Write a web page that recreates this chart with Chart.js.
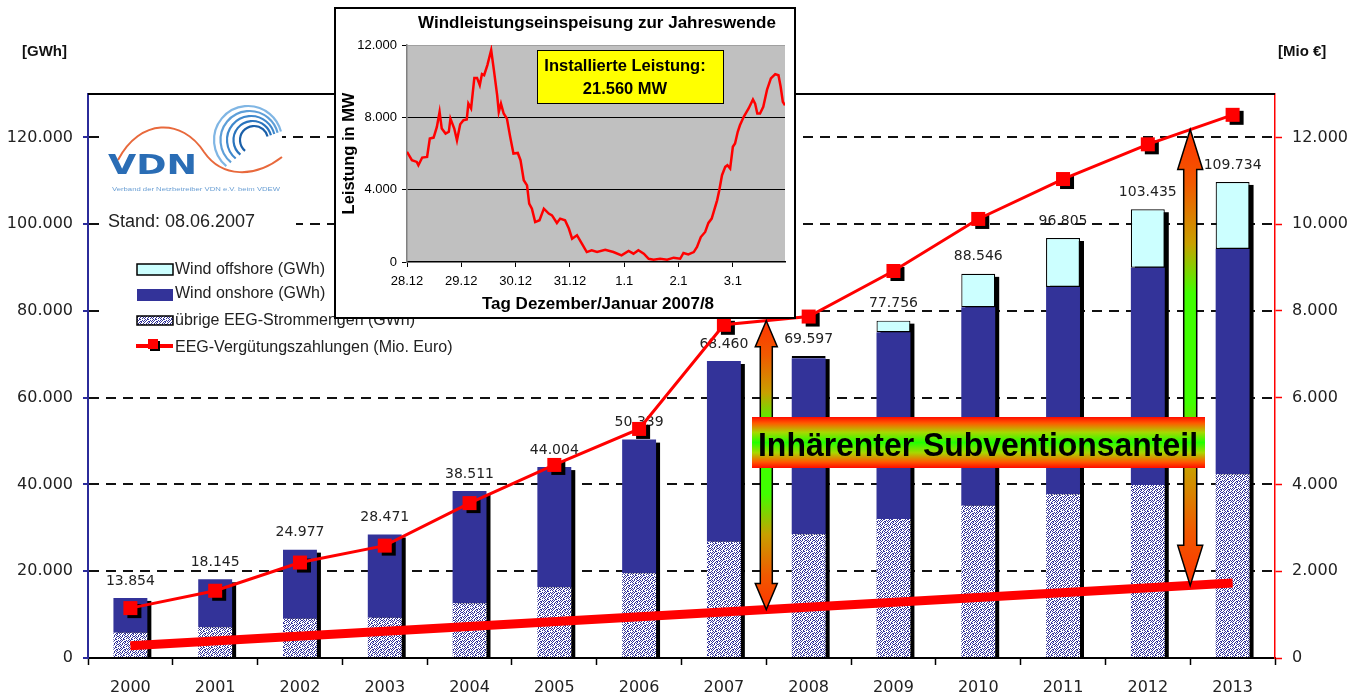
<!DOCTYPE html>
<html><head><meta charset="utf-8">
<script src="https://cdn.jsdelivr.net/npm/chart.js@4.4.0/dist/chart.umd.min.js"></script>
<style>
html,body{margin:0;padding:0;background:#fff;}
#wrap{position:relative;width:1360px;height:697px;overflow:hidden;background:#fff;}
#main{position:absolute;left:0;top:0;}
#inset{position:absolute;left:334px;top:7px;}
</style></head><body>
<div id="wrap"><canvas id="main" width="1360" height="697"></canvas><canvas id="inset" width="462" height="312"></canvas></div>
<script>
// ---------- DATA ----------
const years = ['2000','2001','2002','2003','2004','2005','2006','2007','2008','2009','2010','2011','2012','2013'];
const uebrige  = [5830, 7070, 9060, 9290, 12600, 16290, 19520, 26810, 28510, 32040, 35110, 37730, 39880, 42340];
const onshore  = [8020, 11075, 15917, 19181, 25911, 27714, 30819, 41650, 40587, 43030, 45730, 47790, 50090, 51930];
const offshore = [0, 0, 0, 0, 0, 0, 0, 0, 500, 2690, 7700, 11290, 13470, 15460];
const totals   = [13854, 18145, 24977, 28471, 38511, 44004, 50339, 68460, 69597, 77756, 88546, 96805, 103435, 109734];
const verguetung = [1150, 1550, 2200, 2590, 3570, 4450, 5280, 7680, 7870, 8920, 10120, 11040, 11840, 12520];
const trendLine = [280, null, null, null, null, null, null, null, null, null, null, null, null, 1730];
const leftTicks  = [0, 20000, 40000, 60000, 80000, 100000, 120000];
const rightTicks = [0, 2000, 4000, 6000, 8000, 10000, 12000];

const windDays = [0,0.09,0.18,0.21,0.28,0.37,0.42,0.49,0.55,0.60,0.64,0.71,0.77,0.80,0.87,0.92,0.98,1.04,1.10,1.13,1.18,1.24,1.29,1.34,1.38,1.42,1.48,1.55,1.60,1.66,1.69,1.73,1.78,1.84,1.90,1.96,2.04,2.09,2.15,2.21,2.25,2.30,2.36,2.44,2.52,2.61,2.67,2.76,2.82,2.91,2.98,3.04,3.13,3.22,3.31,3.40,3.50,3.65,3.80,3.95,4.08,4.17,4.26,4.36,4.45,4.54,4.66,4.79,4.91,5.03,5.09,5.18,5.28,5.34,5.41,5.49,5.55,5.61,5.71,5.75,5.80,5.86,5.90,5.95,6.00,6.04,6.09,6.13,6.20,6.29,6.37,6.41,6.45,6.50,6.56,6.63,6.70,6.78,6.84,6.88,6.92,6.96];
const windMW = [6090,5630,5535,5350,5775,5810,6830,6880,7470,8300,7380,7100,7200,7930,7380,6730,7620,7840,7880,8760,8490,10180,10180,9780,10390,10330,10890,11720,10610,9230,8300,8760,8210,7930,6920,6000,6030,5630,4520,4240,3230,2950,2210,2310,2950,2680,2580,2160,2400,2310,1850,1290,1480,1010,550,650,550,680,550,370,610,460,650,460,180,130,180,130,240,180,500,420,550,830,1380,1660,2160,2400,3410,3970,4800,5260,5350,5170,6370,6550,7200,7560,8030,8490,8990,8760,8210,8210,8580,9540,10150,10390,10330,9690,8860,8670];
const dayLabels = ['28.12','29.12','30.12','31.12','1.1','2.1','3.1'];
const windTicks = [0, 4000, 8000, 12000];

// ---------- helpers ----------
const fmt = v => String(Math.round(v)).replace(/\B(?=(\d{3})+(?!\d))/g, '.');

function makePattern(ctx) {
  const rows = ["10100010","01001101","10010100","00101001","10100110","01001001","10010010","01011000"];
  const c = document.createElement('canvas'); c.width = 8; c.height = 8;
  const g = c.getContext('2d');
  g.fillStyle = '#ffffff'; g.fillRect(0,0,8,8);
  g.fillStyle = '#333399';
  rows.forEach((r,y)=>{ for (let x=0;x<8;x++) if (r[x]==='1') g.fillRect(x,y,1,1); });
  return ctx.createPattern(c, 'repeat');
}

const mainCanvas = document.getElementById('main');
const mctx = mainCanvas.getContext('2d');
const pattern = makePattern(mctx);

function drawLogo(ctx) {
  ctx.save();
  const blues = ['#1a5fa8','#2a74bd','#3f88cc','#5e9fd8','#80b6e4'];
  for (let k=0;k<5;k++) {
    const r = 14 + k*5;
    ctx.beginPath();
    ctx.strokeStyle = blues[k];
    ctx.lineWidth = 2.2;
    ctx.arc(254 - k*1.5, 140, r, 0.72*Math.PI, 1.92*Math.PI);
    ctx.stroke();
  }
  ctx.beginPath();
  ctx.strokeStyle = '#e8693c';
  ctx.lineWidth = 2;
  ctx.moveTo(118, 160);
  ctx.bezierCurveTo(140, 118, 182, 118, 204, 152);
  ctx.bezierCurveTo(222, 178, 255, 178, 282, 157);
  ctx.stroke();
  ctx.fillStyle = '#2a6db5';
  ctx.font = 'bold 26px "DejaVu Sans", sans-serif';
  const w = ctx.measureText('VDN').width;
  ctx.translate(108, 174);
  ctx.scale(89 / w, 1);
  ctx.textBaseline = 'alphabetic';
  ctx.fillText('VDN', 0, 0);
  ctx.restore();
  ctx.save();
  ctx.fillStyle = '#6a9fd4';
  ctx.font = '6px "Liberation Sans", sans-serif';
  const tl = 'Verband der Netzbetreiber VDN e.V. beim VDEW';
  const tw = ctx.measureText(tl).width;
  ctx.translate(112, 191);
  ctx.scale(168 / tw, 1);
  ctx.fillText(tl, 0, 0);
  ctx.restore();
}

function drawLegend(ctx) {
  ctx.save();
  ctx.font = '16px "Liberation Sans", Arial, sans-serif';
  ctx.textBaseline = 'middle';
  ctx.fillStyle = '#ccffff'; ctx.fillRect(137, 264, 36, 11);
  ctx.strokeStyle = '#000'; ctx.lineWidth = 1.5; ctx.strokeRect(137, 264, 36, 11);
  ctx.fillStyle = '#333399'; ctx.fillRect(137, 289, 36, 12);
  ctx.fillStyle = pattern; ctx.fillRect(137, 316, 36, 9);
  ctx.strokeStyle = '#000'; ctx.lineWidth = 1.5; ctx.strokeRect(137, 316, 36, 9);
  ctx.strokeStyle = '#ff0000'; ctx.lineWidth = 4;
  ctx.beginPath(); ctx.moveTo(136, 346); ctx.lineTo(173, 346); ctx.stroke();
  ctx.fillStyle = '#000'; ctx.fillRect(150, 341, 10, 10);
  ctx.fillStyle = '#ff0000'; ctx.fillRect(148, 339, 10, 10);
  ctx.fillStyle = '#222';
  ctx.fillText('Wind offshore (GWh)', 175, 270);
  ctx.fillText('Wind onshore (GWh)', 175, 294);
  ctx.fillText('übrige EEG-Strommengen (GWh)', 175, 321);
  ctx.fillText('EEG-Vergütungszahlungen (Mio. Euro)', 175, 348);
  ctx.restore();
}

function arrowGradient(ctx, y1, y2) {
  const g = ctx.createLinearGradient(0, y1, 0, y2);
  g.addColorStop(0, '#ff3300');
  g.addColorStop(0.12, '#f05a00');
  g.addColorStop(0.25, '#c8a000');
  g.addColorStop(0.36, '#40ff00');
  g.addColorStop(0.6, '#40ff00');
  g.addColorStop(0.74, '#c8a000');
  g.addColorStop(0.88, '#f05a00');
  g.addColorStop(1, '#ff3300');
  return g;
}

function drawArrow(ctx, x, yTop, yBot, headH, headHalf, shaftHalf) {
  ctx.save();
  ctx.beginPath();
  ctx.moveTo(x, yTop);
  ctx.lineTo(x + headHalf, yTop + headH);
  ctx.lineTo(x + shaftHalf, yTop + headH);
  ctx.lineTo(x + shaftHalf, yBot - headH);
  ctx.lineTo(x + headHalf, yBot - headH);
  ctx.lineTo(x, yBot);
  ctx.lineTo(x - headHalf, yBot - headH);
  ctx.lineTo(x - shaftHalf, yBot - headH);
  ctx.lineTo(x - shaftHalf, yTop + headH);
  ctx.lineTo(x - headHalf, yTop + headH);
  ctx.closePath();
  ctx.fillStyle = arrowGradient(ctx, yTop, yBot);
  ctx.fill();
  ctx.strokeStyle = '#000';
  ctx.lineWidth = 1.5;
  ctx.stroke();
  ctx.restore();
}

const mainPlugin = {
  id: 'mainDecor',
  beforeDatasetsDraw(chart) {
    const ctx = chart.ctx;
    const a = chart.chartArea;
    ctx.save();
    ctx.strokeStyle = '#000'; ctx.lineWidth = 2;
    ctx.beginPath(); ctx.moveTo(a.left, a.top); ctx.lineTo(a.right, a.top); ctx.stroke();
    ctx.fillStyle = '#fff';
    ctx.fillRect(106, 98, 176, 100);
    ctx.fillRect(104, 206, 192, 34);
    ctx.fillRect(106, 256, 330, 102);
    drawLogo(ctx);
    ctx.fillStyle = '#222';
    ctx.font = '18px "Liberation Sans", Arial, sans-serif';
    ctx.textBaseline = 'middle';
    ctx.fillText('Stand: 08.06.2007', 108, 222);
    drawLegend(ctx);
    const metas = [0,1,2].map(i => chart.getDatasetMeta(i));
    const ys = chart.scales.y;
    for (let i = 0; i < years.length; i++) {
      const els = metas.map(m => m.data[i]);
      const x = els[0].x, w = els[0].width, base = els[0].base;
      const top = Math.min(...els.map(e => e.y));
      ctx.fillStyle = '#000';
      ctx.fillRect(x - w/2 + 4, top + 3, w, base - top - 3);
      ctx.fillStyle = '#222';
      ctx.font = '14px "DejaVu Sans", sans-serif';
      ctx.textAlign = 'center';
      ctx.fillText(fmt(totals[i]), x, ys.getPixelForValue(totals[i]) - 17);
    }
    ctx.restore();
  },
  beforeDatasetDraw(chart, args) {
    if (args.index !== 4) return;
    const ctx = chart.ctx;
    ctx.save();
    ctx.fillStyle = '#000';
    args.meta.data.forEach(p => { ctx.fillRect(p.x - 7 + 4, p.y - 7 + 3, 14, 14); });
    ctx.restore();
  },
  afterDatasetsDraw(chart) {
    const ctx = chart.ctx;
    const xs = chart.scales.x;
    const sq = chart.getDatasetMeta(4).data;
    const tr = chart.getDatasetMeta(3).data;
    const y0 = tr[0].y, y13 = tr[13].y;
    const arrowAt = (pos, headH, headHalf, shaftHalf) => {
      const x = xs.getPixelForValue(pos);
      const i = Math.floor(pos), f = pos - i;
      const yTop = sq[i].y + (sq[i+1].y - sq[i].y) * f;
      const yBot = y0 + (y13 - y0) * (pos / 13);
      drawArrow(ctx, x, yTop, yBot, headH, headHalf, shaftHalf);
    };
    arrowAt(7.5, 26, 11, 6);
    arrowAt(12.5, 40, 12.5, 6.5);
    ctx.save();
    const bx = 752, by = 417, bw = 453, bh = 51;
    const g = ctx.createLinearGradient(0, by, 0, by + bh);
    g.addColorStop(0, '#ff0a00');
    g.addColorStop(0.12, '#ff5a00');
    g.addColorStop(0.3, '#a8d800');
    g.addColorStop(0.5, '#22ff00');
    g.addColorStop(0.7, '#a8d800');
    g.addColorStop(0.88, '#ff5a00');
    g.addColorStop(1, '#ff0a00');
    ctx.fillStyle = g;
    ctx.fillRect(bx, by, bw, bh);
    const t = 'Inhärenter Subventionsanteil';
    ctx.font = 'bold 33px "Liberation Sans Narrow", "Arial Narrow", "Liberation Sans", sans-serif';
    const tw = ctx.measureText(t).width;
    ctx.translate(978, 456);
    ctx.scale(440 / tw, 1);
    ctx.fillStyle = '#000';
    ctx.textAlign = 'center';
    ctx.textBaseline = 'alphabetic';
    ctx.fillText(t, 0, 0);
    ctx.restore();
  },
  afterDraw(chart) {
    const ctx = chart.ctx;
    ctx.save();
    ctx.fillStyle = '#111';
    ctx.font = 'bold 15px "Liberation Sans", Arial, sans-serif';
    ctx.textBaseline = 'middle';
    ctx.fillText('[GWh]', 22, 52);
    ctx.fillText('[Mio €]', 1278, 52);
    ctx.restore();
  }
};

new Chart(mainCanvas, {
  type: 'bar',
  data: {
    labels: years,
    datasets: [
      { type: 'bar', label: 'übrige EEG-Strommengen (GWh)', data: uebrige, backgroundColor: pattern, borderWidth: 0,
        yAxisID: 'y', stack: 's', order: 3, barPercentage: 0.4, categoryPercentage: 1 },
      { type: 'bar', label: 'Wind onshore (GWh)', data: onshore, backgroundColor: '#333399', borderWidth: 0,
        yAxisID: 'y', stack: 's', order: 3, barPercentage: 0.4, categoryPercentage: 1 },
      { type: 'bar', label: 'Wind offshore (GWh)', data: offshore, backgroundColor: '#ccffff', borderColor: '#000',
        borderWidth: c => (c.raw > 0 ? 1.2 : 0), borderSkipped: false,
        yAxisID: 'y', stack: 's', order: 3, barPercentage: 0.4, categoryPercentage: 1 },
      { type: 'line', label: 'Trend', data: trendLine, yAxisID: 'y1', borderColor: '#ff0000', borderWidth: 9,
        borderCapStyle: 'butt', pointRadius: 0, spanGaps: true, order: 2 },
      { type: 'line', label: 'EEG-Vergütungszahlungen (Mio. Euro)', data: verguetung, yAxisID: 'y1',
        borderColor: '#ff0000', borderWidth: 3, pointStyle: 'rect', pointRadius: 9.9,
        pointBackgroundColor: '#ff0000', pointBorderWidth: 0, tension: 0, order: 1 }
    ]
  },
  options: {
    responsive: false, animation: false, devicePixelRatio: 1,
    layout: { padding: { top: 94, left: 0, right: 0, bottom: 0 } },
    plugins: { legend: { display: false }, tooltip: { enabled: false }, title: { display: false } },
    scales: {
      x: {
        type: 'category', offset: true, stacked: true,
        grid: { display: true, drawOnChartArea: false, drawTicks: true, tickLength: 7, tickColor: '#000', tickWidth: 1.5, offset: true },
        border: { display: true, color: '#000', width: 2 },
        ticks: { font: { family: 'DejaVu Sans', size: 16 }, color: '#222', padding: 13, maxRotation: 0, autoSkip: false },
        afterFit: s => { s.height = 39; }
      },
      y: {
        position: 'left', stacked: true, min: 0, max: 130000,
        afterBuildTicks: s => { s.ticks = leftTicks.map(v => ({ value: v })); },
        afterFit: s => { s.width = 88; },
        grid: { color: c => (c.tick && c.tick.value === 0) ? 'rgba(0,0,0,0)' : '#111', lineWidth: 2,
                tickColor: '#2b2b9a', tickLength: 5, tickWidth: 2 },
        border: { color: '#2b2b9a', width: 2, dash: [10, 7] },
        ticks: { font: { family: 'DejaVu Sans', size: 16 }, color: '#222', padding: 10, callback: v => fmt(v) }
      },
      y1: {
        position: 'right', min: 0, max: 13000,
        afterBuildTicks: s => { s.ticks = rightTicks.map(v => ({ value: v })); },
        afterFit: s => { s.width = 85; },
        grid: { drawOnChartArea: false, tickColor: '#ff0000', tickLength: 7, tickWidth: 1.5 },
        border: { color: '#ff0000', width: 1.5 },
        ticks: { font: { family: 'DejaVu Sans', size: 16 }, color: '#222', padding: 10, callback: v => fmt(v) }
      }
    }
  },
  plugins: [mainPlugin]
});

// ---------- INSET ----------
const insetPlugin = {
  id: 'insetDecor',
  beforeDraw(chart) {
    const ctx = chart.ctx, a = chart.chartArea;
    ctx.save();
    ctx.fillStyle = '#fff'; ctx.fillRect(0, 0, chart.width, chart.height);
    ctx.fillStyle = '#c0c0c0'; ctx.fillRect(a.left, a.top, a.right - a.left, a.bottom - a.top);
    ctx.restore();
  },
  afterDraw(chart) {
    const ctx = chart.ctx, a = chart.chartArea;
    ctx.save();
    ctx.strokeStyle = '#000'; ctx.lineWidth = 2;
    ctx.strokeRect(1, 1, chart.width - 2, chart.height - 2);
    ctx.fillStyle = '#000';
    ctx.textAlign = 'center'; ctx.textBaseline = 'middle';
    ctx.font = 'bold 17px "Liberation Sans", Arial, sans-serif';
    ctx.fillText('Windleistungseinspeisung zur Jahreswende', 263, 16);
    ctx.font = 'bold 17px "Liberation Sans", Arial, sans-serif';
    ctx.fillText('Tag Dezember/Januar 2007/8', 264, 297);
    ctx.save();
    ctx.translate(15, (a.top + a.bottom) / 2);
    ctx.rotate(-Math.PI / 2);
    ctx.font = 'bold 16.5px "Liberation Sans", Arial, sans-serif';
    ctx.fillText('Leistung in MW', 0, 0);
    ctx.restore();
    ctx.fillStyle = '#ffff00';
    ctx.fillRect(203, 43, 186, 53);
    ctx.strokeStyle = '#000'; ctx.lineWidth = 1;
    ctx.strokeRect(203.5, 43.5, 186, 53);
    ctx.fillStyle = '#000';
    ctx.font = 'bold 16.5px "Liberation Sans", Arial, sans-serif';
    ctx.fillText('Installierte Leistung:', 291, 59);
    ctx.fillText('21.560 MW', 291, 82);
    ctx.restore();
  }
};

new Chart(document.getElementById('inset'), {
  type: 'line',
  data: { datasets: [{ data: windDays.map((d, i) => ({ x: d, y: windMW[i] })), borderColor: '#ff0000',
    borderWidth: 2.5, pointRadius: 0, tension: 0 }] },
  options: {
    responsive: false, animation: false, devicePixelRatio: 1,
    layout: { padding: { top: 38, right: 11, left: 0, bottom: 0 } },
    plugins: { legend: { display: false }, tooltip: { enabled: false } },
    scales: {
      x: {
        type: 'linear', min: 0, max: 6.96,
        afterBuildTicks: s => { s.ticks = dayLabels.map((l, i) => ({ value: i })); },
        afterFit: s => { s.height = 57; },
        grid: { drawOnChartArea: false, tickLength: 5, tickColor: '#000' },
        border: { color: '#000', width: 1.5 },
        ticks: { callback: (v, i) => dayLabels[i], font: { family: 'Liberation Sans', size: 13 }, color: '#000',
                 padding: 7, maxRotation: 0, autoSkip: false }
      },
      y: {
        min: 0, max: 12000,
        afterBuildTicks: s => { s.ticks = windTicks.map(v => ({ value: v })); },
        afterFit: s => { s.width = 73; },
        grid: { color: c => { const v = c.tick ? c.tick.value : -1; return v === 0 ? 'rgba(0,0,0,0)' : (v === 12000 ? '#a0a0a0' : '#000'); },
                lineWidth: 1, tickColor: '#000', tickLength: 5 },
        border: { color: '#808080', width: 1.5 },
        ticks: { callback: v => fmt(v), font: { family: 'Liberation Sans', size: 13 }, color: '#000', padding: 5 }
      }
    }
  },
  plugins: [insetPlugin]
});
</script>
</body></html>
